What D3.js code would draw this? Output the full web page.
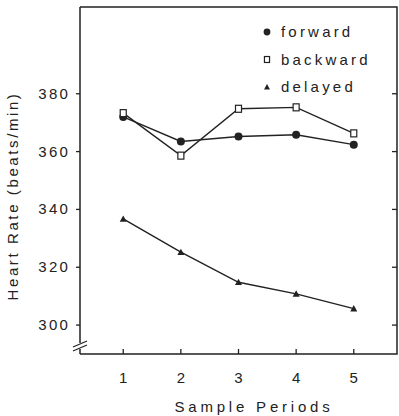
<!DOCTYPE html>
<html>
<head>
<meta charset="utf-8">
<script src="https://cdn.jsdelivr.net/npm/d3@7"></script>
<style>
  body { margin: 0; background: #fff; }
  svg text { font-family: "Liberation Sans", Arial, sans-serif; fill: #222; }
</style>
</head>
<body>
<div id="chart"></div>
<script>
// sample periods along the x axis
const periods = [1, 2, 3, 4, 5];
const yTicks = [300, 320, 340, 360, 380];

// heart rate (beats/min)
const forward  = [372, 363.5, 365.2, 365.8, 362.4];
const backward = [373.3, 358.6, 374.8, 375.3, 366.3];
const delayed  = [336.7, 325.2, 314.8, 310.8, 305.7];

const seriesNames = ["forward", "backward", "delayed"];

const width = 399, height = 416;
const margin = {top: 7, right: 2, bottom: 62, left: 80};

const svg = d3.select("#chart").append("svg")
    .attr("width", width)
    .attr("height", height);

const x = d3.scaleLinear()
    .domain([0.25, 5.75])
    .range([margin.left, width - margin.right]);

const y = d3.scaleLinear()
    .domain([290, 410])
    .range([height - margin.bottom, margin.top]);

const x0 = x.range()[0], x1 = x.range()[1];
const y0 = y.range()[0], y1 = y.range()[1];

const ink = "#222";

// frame: top, right, bottom
svg.append("path")
  .attr("d", `M${x0},${y1}H${x1}V${y0}H${x0}`)
  .attr("fill", "none").attr("stroke", ink).attr("stroke-width", 1.5);

// left axis with a break near the bottom
const breakY = y0 - 8;
svg.append("line")
  .attr("x1", x0).attr("x2", x0).attr("y1", y1).attr("y2", breakY - 3)
  .attr("stroke", ink).attr("stroke-width", 1.5);
svg.append("line")
  .attr("x1", x0).attr("x2", x0).attr("y1", breakY + 3).attr("y2", y0)
  .attr("stroke", ink).attr("stroke-width", 1.5);
[-2, 2].forEach(d => {
  svg.append("line")
    .attr("x1", x0 - 7).attr("y1", breakY + d + 3)
    .attr("x2", x0 + 7).attr("y2", breakY + d - 3)
    .attr("stroke", ink).attr("stroke-width", 1.2);
});

// y ticks: outward on the left, inward on the right
const yg = svg.append("g");
yg.selectAll("line.l").data(yTicks).join("line").attr("class", "l")
  .attr("x1", x0 - 4).attr("x2", x0)
  .attr("y1", d => y(d)).attr("y2", d => y(d))
  .attr("stroke", ink).attr("stroke-width", 1.3);
yg.selectAll("line.r").data(yTicks).join("line").attr("class", "r")
  .attr("x1", x1 - 5).attr("x2", x1)
  .attr("y1", d => y(d)).attr("y2", d => y(d))
  .attr("stroke", ink).attr("stroke-width", 1.3);
yg.selectAll("text").data(yTicks).join("text")
  .attr("x", x0 - 10)
  .attr("y", d => y(d) + 5)
  .attr("text-anchor", "end")
  .attr("font-size", 15)
  .attr("letter-spacing", 2.2)
  .text(d => d);

// x ticks: inward from the bottom line
const xg = svg.append("g");
xg.selectAll("line").data(periods).join("line")
  .attr("x1", d => x(d)).attr("x2", d => x(d))
  .attr("y1", y0).attr("y2", y0 - 5)
  .attr("stroke", ink).attr("stroke-width", 1.3);
xg.selectAll("text").data(periods).join("text")
  .attr("x", d => x(d))
  .attr("y", y0 + 29)
  .attr("text-anchor", "middle")
  .attr("font-size", 15)
  .text(d => d);

// axis titles
svg.append("text")
  .attr("x", 254)
  .attr("y", 412)
  .attr("text-anchor", "middle")
  .attr("font-size", 15)
  .attr("letter-spacing", 3.8)
  .text("Sample Periods");

svg.append("text")
  .attr("transform", "translate(18,196) rotate(-90)")
  .attr("text-anchor", "middle")
  .attr("font-size", 15)
  .attr("letter-spacing", 2.6)
  .text("Heart Rate (beats/min)");

// series
const line = d3.line()
  .x((d, i) => x(periods[i]))
  .y(d => y(d));

const allSeries = [forward, backward, delayed];
allSeries.forEach(vals => {
  svg.append("path")
    .datum(vals)
    .attr("d", line)
    .attr("fill", "none")
    .attr("stroke", ink)
    .attr("stroke-width", 1.4);
});

function drawMarker(g, type, cx, cy, s) {
  if (type === "forward") {
    g.append("circle").attr("cx", cx).attr("cy", cy).attr("r", 4 * s).attr("fill", ink);
  } else if (type === "backward") {
    g.append("rect").attr("x", cx - 3 * s).attr("y", cy - 3.5 * s)
      .attr("width", 6 * s).attr("height", 7 * s)
      .attr("fill", "#fff").attr("stroke", ink).attr("stroke-width", 1.2);
  } else {
    const r = 3.5 * s;
    g.append("path")
      .attr("d", `M${cx},${cy - r}L${cx + r},${cy + r * 0.8}L${cx - r},${cy + r * 0.8}Z`)
      .attr("fill", ink);
  }
}

const mg = svg.append("g");
allSeries.forEach((vals, k) => {
  vals.forEach((v, i) => drawMarker(mg, seriesNames[k], x(periods[i]), y(v), 1));
});

// legend
const legend = svg.append("g");
seriesNames.forEach((name, i) => {
  const ly = 32 + i * 27.5;
  drawMarker(legend, name, 267, ly, 0.85);
  legend.append("text")
    .attr("x", 281)
    .attr("y", ly + 5)
    .attr("font-size", 15)
    .attr("letter-spacing", 3.2)
    .text(name);
});
</script>
</body>
</html>
